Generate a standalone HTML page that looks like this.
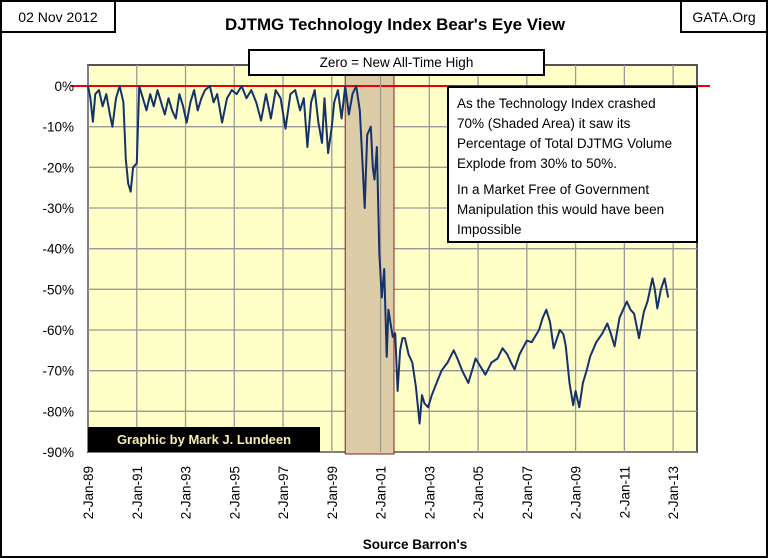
<!DOCTYPE html>
<html><head><meta charset="utf-8"><style>
body{margin:0;background:#fff;}
#wrap{position:relative;width:768px;height:558px;overflow:hidden;font-family:"Liberation Sans",sans-serif;}
.box{position:absolute;background:#fff;border:2px solid #000;box-sizing:border-box;font-size:13px;}
</style></head><body>
<div id="wrap">
<svg id="svg" width="768" height="558" style="position:absolute;left:0;top:0">
<rect x="1" y="1" width="766" height="556" fill="#fff" stroke="#000" stroke-width="2"/>
<rect id="plotbg" fill="#ffffc8" stroke="#555" stroke-width="2"/>
<g id="grid"></g>
<rect id="shade" fill="#dccca8" stroke="#8b1a1a" stroke-width="1"/>
<line id="zeroline" stroke="#e00" stroke-width="2"/>
<path id="series" fill="none" stroke="#14336b" stroke-width="2" stroke-linejoin="round"/>
<g id="ylabels"></g>
<g id="xlabels"></g>
<text x="415" y="549" text-anchor="middle" font-size="13.5" font-weight="bold">Source Barron's</text>
<text x="395" y="30" text-anchor="middle" font-size="17" font-weight="bold" textLength="340" lengthAdjust="spacingAndGlyphs">DJTMG Technology Index Bear's Eye View</text>
</svg>
<div class="box" style="left:0;top:0;width:116px;height:33px;line-height:30px;text-align:center;font-size:14px">02 Nov 2012</div>
<div class="box" style="left:680px;top:0;width:88px;height:33px;line-height:30px;text-align:center;font-size:14px">GATA.Org</div>
<div class="box" style="left:248px;top:49px;width:297px;height:27px;line-height:24px;text-align:center;font-size:13.5px">Zero = New All-Time High</div>
<div class="box" style="left:447px;top:86px;width:251px;height:157px;padding:6px 6px 6px 8px;line-height:20px;font-size:13.5px;white-space:nowrap">
<div style="margin-bottom:6px">As the Technology Index crashed<br>70% (Shaded Area) it saw its<br>Percentage of Total DJTMG Volume<br>Explode from 30% to 50%.</div>
<div>In a Market Free of Government<br>Manipulation this would have been<br>Impossible</div></div>
<div style="position:absolute;left:88px;top:427px;width:232px;height:25px;background:#000;color:#f4eeb0;font-weight:bold;font-size:13px;line-height:25px;text-align:center">Graphic by Mark J. Lundeen</div>
</div>
<script>
const yTicks=[0,-10,-20,-30,-40,-50,-60,-70,-80,-90];
const xTickYears=[1989,1991,1993,1995,1997,1999,2001,2003,2005,2007,2009,2011,2013];
const xTickLabels=["2-Jan-89","2-Jan-91","2-Jan-93","2-Jan-95","2-Jan-97","2-Jan-99","2-Jan-01","2-Jan-03","2-Jan-05","2-Jan-07","2-Jan-09","2-Jan-11","2-Jan-13"];
const shadeRange=[1999.55,2001.55];
const years=[1989.0,1989.1,1989.2,1989.3,1989.45,1989.6,1989.75,1989.9,1990.0,1990.15,1990.3,1990.45,1990.55,1990.65,1990.75,1990.85,1991.0,1991.1,1991.25,1991.4,1991.55,1991.7,1991.85,1992.0,1992.15,1992.3,1992.45,1992.6,1992.75,1992.9,1993.05,1993.2,1993.35,1993.5,1993.65,1993.8,1994.0,1994.15,1994.3,1994.5,1994.7,1994.9,1995.1,1995.3,1995.5,1995.7,1995.9,1996.1,1996.3,1996.5,1996.7,1996.9,1997.1,1997.3,1997.5,1997.7,1997.85,1998.0,1998.15,1998.3,1998.45,1998.6,1998.7,1998.85,1999.0,1999.1,1999.25,1999.4,1999.55,1999.7,1999.85,2000.0,2000.15,2000.25,2000.35,2000.45,2000.6,2000.68,2000.75,2000.85,2000.95,2001.05,2001.15,2001.25,2001.32,2001.4,2001.5,2001.6,2001.7,2001.8,2001.9,2002.0,2002.15,2002.3,2002.45,2002.6,2002.7,2002.8,2002.95,2003.1,2003.3,2003.5,2003.75,2004.0,2004.15,2004.35,2004.6,2004.75,2004.9,2005.1,2005.3,2005.55,2005.8,2006.0,2006.2,2006.35,2006.5,2006.7,2007.0,2007.2,2007.5,2007.65,2007.8,2007.95,2008.1,2008.35,2008.5,2008.6,2008.75,2008.9,2009.0,2009.15,2009.3,2009.45,2009.6,2009.85,2010.1,2010.3,2010.45,2010.6,2010.8,2011.1,2011.25,2011.4,2011.6,2011.8,2011.95,2012.15,2012.25,2012.35,2012.5,2012.65,2012.8];
const values=[0,-3,-8.8,-2,-1,-5,-2,-7,-10,-3,0,-4,-18,-24,-26,-20,-19,0,-3,-6,-2,-5,-1,-4,-7,-3,-6,-8,-2,-5,-9,-4,-1,-6,-3,-1,0,-4,-2,-9,-3,-1,-2,0,-3,-1,-4,-8.5,-2,-8,-1,-3,-10.5,-2,-1,-6,-3,-15,-4,-1,-9,-14,-3,-16.5,-10,-4,-1,-8,0,-7,-2,0,-6,-18,-30,-12,-10,-20,-23,-15,-41,-52,-45,-66.6,-55,-58,-61.7,-60.8,-75,-65,-62,-62,-66,-68,-74,-83,-76,-78,-79,-76,-73,-70,-68,-65,-67,-70,-73,-70,-67,-69,-71,-68,-67,-64.5,-66,-68,-69.7,-66,-62.6,-63,-60,-57,-55,-58,-64.5,-60,-61,-64,-73,-78.5,-75,-79,-73,-70,-66.5,-63,-60.8,-58.4,-61,-64,-57,-53,-55,-56,-62,-55.5,-53,-47.3,-50,-54.7,-50,-47.3,-52];
const L=88,R=697,T=65,B=452;
function x(yr){return L+(yr-1989)*24.38;}
function y(v){return 86-v*(366/90);}
const NS="http://www.w3.org/2000/svg";
function mk(tag,attrs,parent){const e=document.createElementNS(NS,tag);for(const k in attrs)e.setAttribute(k,attrs[k]);parent.appendChild(e);return e;}
const bg=document.getElementById('plotbg');
bg.setAttribute('x',L);bg.setAttribute('y',T);bg.setAttribute('width',R-L);bg.setAttribute('height',B-T);
const grid=document.getElementById('grid');
yTicks.forEach(v=>{const g=mk('line',{x1:L,x2:R,y1:y(v),y2:y(v),stroke:'#999','stroke-width':1.3},grid);

});
xTickYears.forEach(t=>{const g=mk('line',{x1:x(t),x2:x(t),y1:T,y2:B,stroke:'#999','stroke-width':1.3},grid);

});
const sh=document.getElementById('shade');
sh.setAttribute('x',x(shadeRange[0]));sh.setAttribute('y',T);sh.setAttribute('width',x(shadeRange[1])-x(shadeRange[0]));sh.setAttribute('height',B-T+2);
const sg=mk('line',{x1:x(2001),x2:x(2001),y1:T,y2:B,stroke:'#a09a88','stroke-width':1.3},grid.parentNode);


const zl=document.getElementById('zeroline');
zl.setAttribute('x1',71);zl.setAttribute('x2',710);zl.setAttribute('y1',y(0));zl.setAttribute('y2',y(0));
let d='';years.forEach((yr,i)=>{d+=(i?'L':'M')+x(yr).toFixed(1)+','+y(values[i]).toFixed(1);});
document.getElementById('series').setAttribute('d',d);
const svg=document.getElementById('svg');
svg.appendChild(document.getElementById('series'));
const yl=document.getElementById('ylabels');
yTicks.forEach(v=>{const t=mk('text',{x:74,y:y(v)+5,'text-anchor':'end','font-size':13.5},yl);t.textContent=v+'%';

});
const xl=document.getElementById('xlabels');
xTickYears.forEach((t,i)=>{const e=mk('text',{x:0,y:0,'text-anchor':'end','font-size':13.5,transform:`translate(${x(t)+5},466) rotate(-90)`},xl);e.textContent=xTickLabels[i];

});
</script>
</body></html>
